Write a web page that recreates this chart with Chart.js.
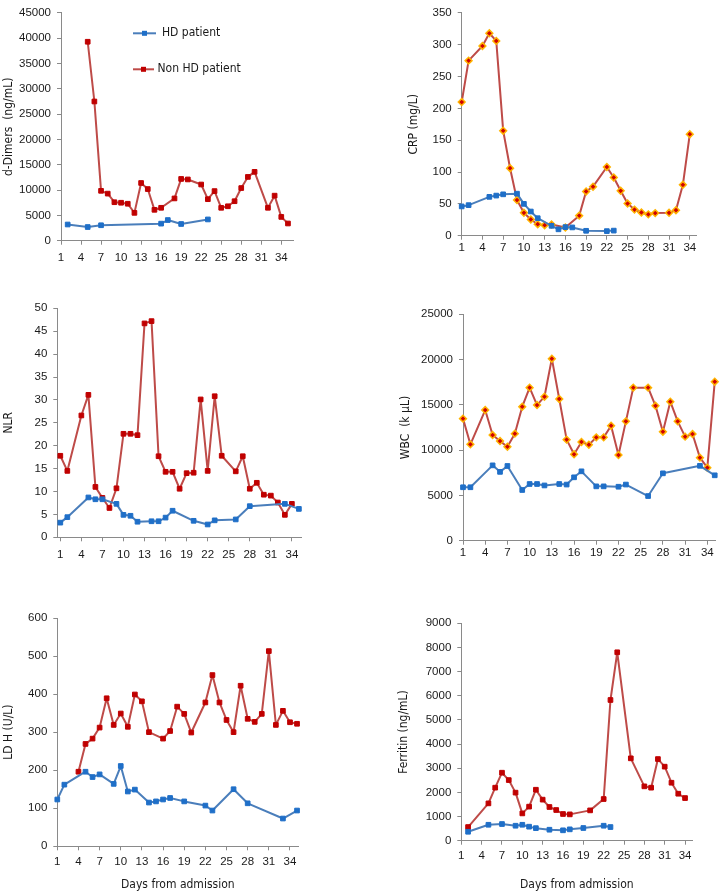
<!DOCTYPE html>
<html><head><meta charset="utf-8">
<script src="https://cdn.jsdelivr.net/npm/chart.js@4/dist/chart.umd.min.js"></script>
<style>
html,body{margin:0;padding:0;background:#fff;}
body{width:728px;height:893px;position:relative;overflow:hidden;}
canvas{position:absolute;display:block;}
</style></head><body>
<canvas id="c1"></canvas><canvas id="c2"></canvas><canvas id="c3"></canvas>
<canvas id="c4"></canvas><canvas id="c5"></canvas><canvas id="c6"></canvas>
<script>
// ---------- data ----------
const xTickLabels = [1,4,7,10,13,16,19,22,25,28,31,34];
const seriesNames = ['HD patient','Non HD patient'];
const xAxisTitle = 'Days from admission';

const ddHdDays = [2,5,7,16,17,19,23];
const ddHdVals = [3200,2700,3050,3370,4080,3300,4200];
const ddNonDays = [5,6,7,8,9,10,11,12,13,14,15,16,18,19,20,22,23,24,25,26,27,28,29,30,32,33,34,35];
const ddNonVals = [39300,27500,9850,9300,7600,7500,7300,5500,11400,10200,6100,6500,8350,12200,12100,11100,8200,9800,6500,6800,7800,10400,12600,13600,6500,8900,4700,3400];

const crpHdDays = [1,2,5,6,7,9,10,11,12,14,15,16,17,19,22,23];
const crpHdVals = [46,48,61,63,65,66,50,38,27.5,15.5,10,13.5,13,7.7,7.2,8];
const crpNonDays = [1,2,4,5,6,7,8,9,10,11,12,13,14,16,18,19,20,22,23,24,25,26,27,28,29,31,32,33,34];
const crpNonVals = [210,275,298,318,306,165,106,56,36,25.5,18,16.5,17.5,13,31.5,69.5,77,108,91.5,70.5,50.5,41,36.5,33.5,35.5,36,40,80,159.5];

const nlrHdDays = [1,2,5,6,7,9,10,11,12,14,15,16,17,20,22,23,26,28,33,35];
const nlrHdVals = [3.2,4.4,8.7,8.3,8.3,7.3,4.9,4.7,3.4,3.5,3.5,4.3,5.8,3.6,2.8,3.7,3.9,6.8,7.3,6.2];
const nlrNonDays = [1,2,4,5,6,7,8,9,10,11,12,13,14,15,16,17,18,19,20,21,22,23,24,26,27,28,29,30,31,32,33,34];
const nlrNonVals = [17.8,14.5,26.6,31.1,11.0,8.6,6.4,10.7,22.6,22.6,22.3,46.7,47.2,17.7,14.3,14.3,10.6,14.0,14.1,30.1,14.5,30.8,17.8,14.4,17.7,10.6,11.9,9.3,9.1,7.6,4.9,7.3];

const wbcHdDays = [1,2,5,6,7,9,10,11,12,14,15,16,17,19,20,22,23,26,28,33,35];
const wbcHdVals = [5900,5900,8320,7600,8250,5600,6260,6260,6100,6260,6200,7000,7660,6000,6000,5960,6200,4930,7440,8270,7220];
const wbcNonDays = [1,2,4,5,6,7,8,9,10,11,12,13,14,15,16,17,18,19,20,21,22,23,24,26,27,28,29,30,31,32,33,34,35];
const wbcNonVals = [13480,10640,14430,11670,11000,10380,11820,14800,16900,14980,15900,20100,15650,11160,9540,10900,10600,11410,11410,12700,9460,13180,16900,16900,14900,12040,15350,13180,11490,11780,9170,8060,17560];

const ldhHdDays = [1,2,5,6,7,9,10,11,12,14,15,16,17,19,22,23,26,28,33,35];
const ldhHdVals = [123,162,196,182,189,164,211,144,149,115,118,123,127,118,107,94,150,113,73,94];
const ldhNonDays = [4,5,6,7,8,9,10,11,12,13,14,16,17,18,19,20,22,23,24,25,26,27,28,29,30,31,32,33,34,35];
const ldhNonVals = [196,269,283,312,389,319,349,314,399,381,300,283,303,367,348,299,378,450,378,332,300,422,335,327,348,513,319,356,326,322];

const ferHdDays = [2,5,7,9,10,11,12,14,16,17,19,22,23];
const ferHdVals = [370,660,690,620,660,580,520,455,430,470,525,620,565];
const ferNonDays = [2,5,6,7,8,9,10,11,12,13,14,15,16,17,20,22,23,24,26,28,29,30,31,32,33,34];
const ferNonVals = [565,1545,2195,2815,2510,1990,1130,1410,2110,1700,1395,1270,1105,1090,1255,1725,5825,7800,3410,2250,2195,3380,3065,2400,1945,1765];

// ---------- styles ----------
const FONT = "'DejaVu Sans Condensed', 'Liberation Sans', Arial, sans-serif";
const TICKFONT = "'Liberation Sans', Arial, sans-serif";
const axisColor = '#8a8a8a';
const textColor = '#1a1a1a';
const lineBase = {borderWidth:2, borderJoinStyle:'round', borderCapStyle:'round'};
const blueStyle = Object.assign({}, lineBase, {borderColor:'#4A7EBB', pointStyle:'rect', pointRadius:3.3,
  pointBackgroundColor:'#1F6FC8', pointBorderColor:'#1F6FC8', pointBorderWidth:1});
const redSquare = Object.assign({}, lineBase, {borderColor:'#BE4B48', pointStyle:'rect', pointRadius:3.3,
  pointBackgroundColor:'#C00000', pointBorderColor:'#C00000', pointBorderWidth:1});
const redDiamond = Object.assign({}, lineBase, {borderColor:'#BE4B48', pointStyle:'rectRot', pointRadius:3.4,
  pointBackgroundColor:'#D00000', pointBorderColor:'#FFB400', pointBorderWidth:1.5});

function mk(label, days, vals, style){
  return Object.assign({label, data: days.map((d,i)=>({x:d, y:vals[i]})),
    tension:0, fill:false, clip:false}, style);
}

const insideLegend = {
  id:'insideLegend',
  afterDraw(chart, args, opts){
    if(!opts.items) return;
    const ctx = chart.ctx;
    ctx.save();
    opts.items.forEach((it,i)=>{
      const ds = chart.data.datasets[i];
      ctx.strokeStyle = ds.borderColor; ctx.lineWidth = 2;
      ctx.beginPath(); ctx.moveTo(it.x0, it.y); ctx.lineTo(it.x1, it.y); ctx.stroke();
      ctx.fillStyle = ds.pointBackgroundColor;
      const m = (it.x0+it.x1)/2;
      ctx.fillRect(m-2.5, it.y-2.5, 5, 5);
      ctx.fillStyle = textColor; ctx.font = '12px ' + FONT;
      ctx.textBaseline = 'middle'; ctx.textAlign = 'left';
      ctx.fillText(ds.label, it.tx, it.y);
    });
    ctx.restore();
  }
};

function build(id, g, datasets, yTitle, xTitle, legendItems){
  const cv = document.getElementById(id);
  cv.width = g.w; cv.height = g.h;
  cv.style.left = g.cx+'px'; cv.style.top = g.cy+'px';
  cv.style.width = g.w+'px'; cv.style.height = g.h+'px';
  const padLeft = Math.max(0, g.titleX - g.cx - 9.2);
  const yWidth = g.left - g.cx - padLeft;
  const xHeight = g.cy + g.h - g.bottom;
  const tickFont = {family:TICKFONT, size:11.5};
  const gridCfg = {display:true, drawOnChartArea:false, drawTicks:true, tickLength:4, color:axisColor};
  new Chart(cv, {
    type:'line',
    data:{datasets},
    options:{
      responsive:false, animation:false, devicePixelRatio:1,
      layout:{padding:{left:padLeft, top:g.top-g.cy, right:g.cx+g.w-g.right, bottom:0}},
      plugins:{legend:{display:false}, tooltip:{enabled:false}, insideLegend:{items:legendItems}},
      scales:{
        x:{type:'linear', min:g.xmin, max:g.xmax,
          afterBuildTicks:s=>{ s.ticks = xTickLabels.map(v=>({value:v})); },
          afterFit:s=>{ s.height = xHeight; },
          ticks:{autoSkip:false, maxRotation:0, padding:g.xPad, color:textColor, font:tickFont, callback:v=>String(v)},
          grid:gridCfg, border:{display:true, color:axisColor, width:1},
          title: xTitle ? {display:true, text:xTitle, color:textColor, font:{family:FONT,size:12}, padding:{top:0,bottom:1}} : {display:false}
        },
        y:{min:0, max:g.ymax,
          afterFit:s=>{ s.width = yWidth; },
          ticks:{stepSize:g.ystep, padding:6, color:textColor, font:tickFont, callback:v=>String(v)},
          grid:gridCfg, border:{display:true, color:axisColor, width:1},
          title:{display:true, text:yTitle, color:textColor, font:{family:FONT,size:12}, padding:{top:2,bottom:0}}
        }
      }
    },
    plugins:[insideLegend]
  });
}

build('c1', {cx:0,cy:0,w:364,h:285,left:61,top:9,right:293.3,bottom:240.7,xmin:1,xmax:35.8,ymax:45000,ystep:5000,xPad:6,titleX:9.3},
  [mk(seriesNames[0],ddHdDays,ddHdVals,blueStyle), mk(seriesNames[1],ddNonDays,ddNonVals,redSquare)],
  'd-Dimers  (ng/mL)', null,
  [{x0:133,x1:156,y:33.3,tx:162},{x0:133,x1:154,y:69.3,tx:157.5}]);

build('c2', {cx:364,cy:0,w:364,h:285,left:461.7,top:9,right:696.7,bottom:235.7,xmin:1,xmax:35,ymax:350,ystep:50,xPad:1.5,titleX:414},
  [mk(seriesNames[0],crpHdDays,crpHdVals,blueStyle), mk(seriesNames[1],crpNonDays,crpNonVals,redDiamond)],
  'CRP (mg/L)', null, null);

build('c3', {cx:0,cy:290,w:364,h:295,left:57.3,top:308.3,right:301.7,bottom:537.3,xmin:0.57,xmax:35.4,ymax:50,ystep:5,xPad:6.5,titleX:8.3},
  [mk(seriesNames[0],nlrHdDays,nlrHdVals,blueStyle), mk(seriesNames[1],nlrNonDays,nlrNonVals,redSquare)],
  'NLR', null, null);

build('c4', {cx:364,cy:290,w:364,h:295,left:463,top:314.3,right:715.7,bottom:540.7,xmin:1,xmax:35.13,ymax:25000,ystep:5000,xPad:1.5,titleX:406.3},
  [mk(seriesNames[0],wbcHdDays,wbcHdVals,blueStyle), mk(seriesNames[1],wbcNonDays,wbcNonVals,redDiamond)],
  'WBC  (k µL)', null, null);

build('c5', {cx:0,cy:590,w:364,h:303,left:57.3,top:618,right:298.3,bottom:846.3,xmin:1,xmax:35.18,ymax:600,ystep:100,xPad:5,titleX:7},
  [mk(seriesNames[0],ldhHdDays,ldhHdVals,blueStyle), mk(seriesNames[1],ldhNonDays,ldhNonVals,redSquare)],
  'LD H (U/L)', xAxisTitle, null);

build('c6', {cx:364,cy:590,w:364,h:303,left:461.3,top:623.3,right:692.3,bottom:840.7,xmin:1,xmax:35.07,ymax:9000,ystep:1000,xPad:4,titleX:404},
  [mk(seriesNames[0],ferHdDays,ferHdVals,blueStyle), mk(seriesNames[1],ferNonDays,ferNonVals,redSquare)],
  'Ferritin (ng/mL)', xAxisTitle, null);
</script>
</body></html>
